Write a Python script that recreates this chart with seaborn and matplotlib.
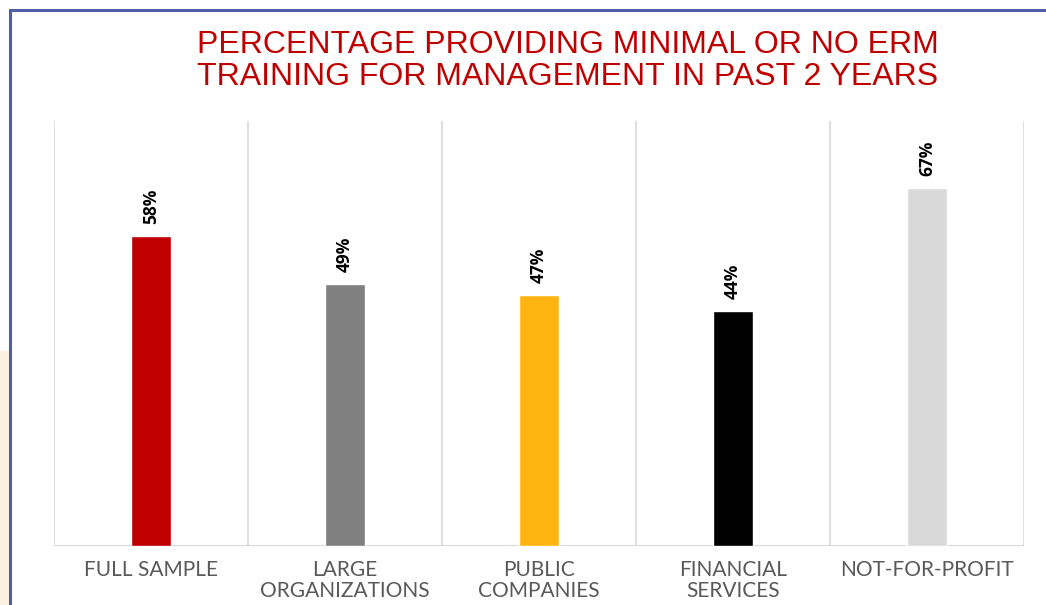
import matplotlib
matplotlib.use("Agg")
import matplotlib.pyplot as plt
import seaborn as sns
from matplotlib.patches import Rectangle

categories = ["FULL SAMPLE", "LARGE\nORGANIZATIONS", "PUBLIC\nCOMPANIES",
              "FINANCIAL\nSERVICES", "NOT-FOR-PROFIT"]
values = [58, 49, 47, 44, 67]
colors = ["#C00000", "#808080", "#FFB511", "#000000", "#D9D9D9"]

sns.set_style("white")
plt.rcParams["font.family"] = ["Liberation Sans", "DejaVu Sans"]

fig = plt.figure(figsize=(10.46, 6.05), dpi=100)

# page frame and the tinted strip on the left
fig.patches.append(Rectangle((0, 0), 10 / 1046, 0.42, transform=fig.transFigure,
                             color="#FCF1E2", zorder=0))
fig.patches.append(Rectangle((10 / 1046, -0.1), 1.2, 1.1 - 10 / 605,
                             transform=fig.transFigure, fill=False,
                             edgecolor="#4E5FA8", linewidth=2.2, zorder=1))

ax = fig.add_axes([54 / 1046, 59 / 605, 970 / 1046, 425 / 605])
sns.barplot(x=categories, y=values, hue=categories, palette=colors,
            width=0.21, legend=False, ax=ax, saturation=1)

ax.set_ylim(0, 79.6)
ax.set_xlim(-0.5, 4.5)
for xb in [-0.5, 0.5, 1.5, 2.5, 3.5, 4.5]:
    ax.axvline(xb, color="#D9D9D9", linewidth=1.2, zorder=0)
ax.axhline(0, color="#D9D9D9", linewidth=1.5, zorder=0)
for s in ax.spines.values():
    s.set_visible(False)
ax.set_yticks([])
ax.set_ylabel("")
ax.tick_params(axis="x", length=0, pad=10)
for lbl in ax.get_xticklabels():
    lbl.set_fontfamily(["Lato", "DejaVu Sans"])
    lbl.set_fontsize(15)
    lbl.set_color("#595959")
    lbl.set_linespacing(1.05)

for i, v in enumerate(values):
    ax.annotate(f"{v}%", (i, v), xytext=(0, 9), textcoords="offset points",
                rotation=90, ha="center", va="bottom", fontsize=12.5,
                fontweight="bold", color="#000000",
                fontfamily=["Open Sans", "DejaVu Sans"])

fig.text(568 / 1046, 1 - 61 / 605,
         "PERCENTAGE PROVIDING MINIMAL OR NO ERM\nTRAINING FOR MANAGEMENT IN PAST 2 YEARS",
         ha="center", va="center", fontsize=23, color="#C00000",
         linespacing=1.08)

fig.savefig("out.png", dpi=100)
